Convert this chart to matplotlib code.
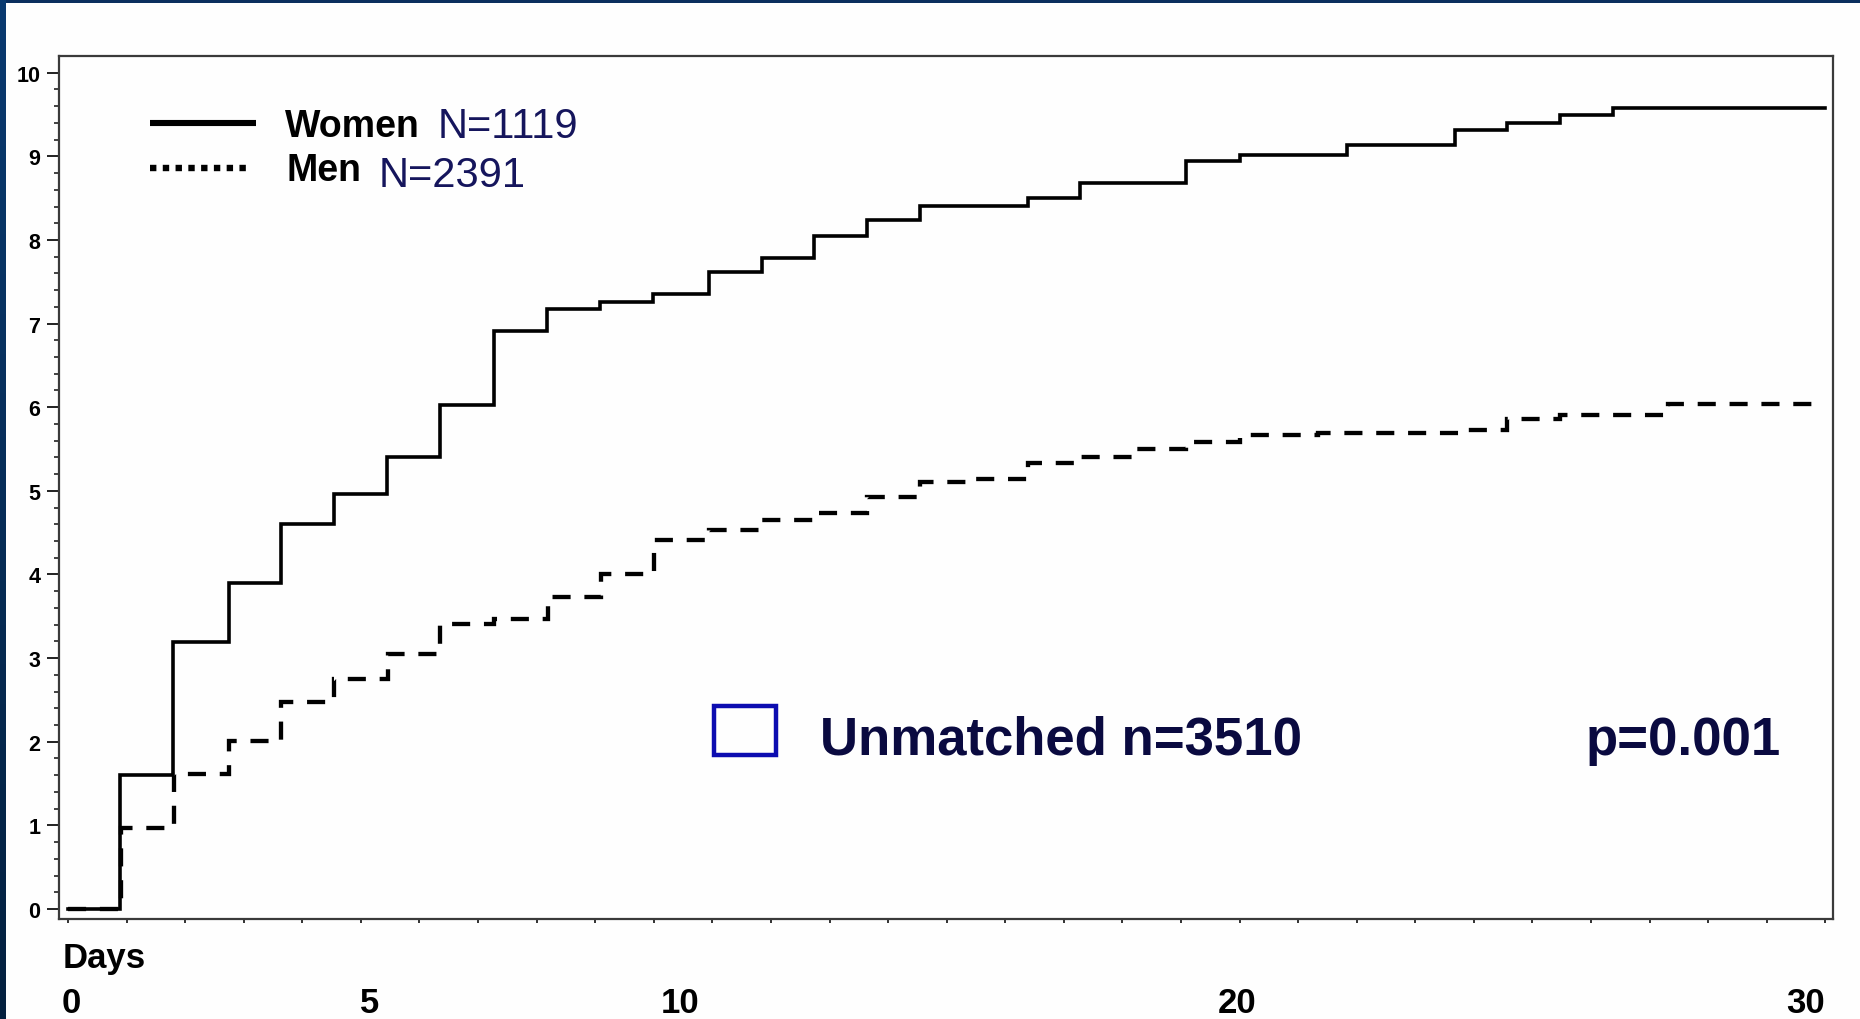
import numpy as np
import matplotlib
matplotlib.use("Agg")
import matplotlib.pyplot as plt
from matplotlib.patches import Rectangle
from matplotlib.transforms import blended_transform_factory
from matplotlib.colors import LinearSegmentedColormap

# ---------------- data ----------------
women_days = [0, 0.89, 1.80, 2.74, 3.64, 4.54, 5.44, 6.35, 7.28, 8.18, 9.08,
              9.98, 10.94, 11.84, 12.74, 13.64, 14.54, 16.38, 17.28, 19.08,
              20.0, 21.84, 23.67, 24.57, 25.47, 26.37]
women_pct = [0, 1.60, 3.19, 3.90, 4.60, 4.96, 5.41, 6.03, 6.91, 7.18, 7.26,
             7.35, 7.62, 7.79, 8.05, 8.24, 8.41, 8.50, 8.68, 8.95,
             9.02, 9.13, 9.31, 9.40, 9.50, 9.58]
men_days = [0, 0.90, 1.81, 2.74, 3.64, 4.54, 5.46, 6.35, 7.27, 8.19, 9.09,
            10.0, 10.95, 11.84, 12.71, 13.64, 14.55, 15.41, 16.38, 17.28,
            18.18, 19.08, 20.0, 21.33, 23.84, 24.57, 25.47, 27.31]
men_pct = [0, 0.97, 1.61, 2.01, 2.48, 2.75, 3.05, 3.41, 3.47, 3.73, 4.00,
           4.41, 4.53, 4.65, 4.74, 4.93, 5.10, 5.14, 5.33, 5.41,
           5.50, 5.58, 5.67, 5.69, 5.73, 5.86, 5.91, 6.04]
end_day = 30

series_names = ["Women", "Men"]
series_n = ["N=1119", "N=2391"]
x_label_values = [0, 5, 10, 20, 30]
x_label_texts = ["0", "5", "10", "20", "30"]
y_tick_values = list(range(0, 11))
x_title = "Days"
cohort_text = "Unmatched n=3510"
p_text = "p=0.001"

# ---------------- layout / style ----------------
x_label_nudge = [0.05, 0.14, 0.45, -0.04, -0.34]   # label offsets (days)
NAVY_TXT = "#15155c"
DARK_TXT = "#0a0a40"

plt.rcParams['font.family'] = ['Liberation Sans', 'DejaVu Sans']

W, H = 1860, 1020
fig = plt.figure(figsize=(W / 100, H / 100), dpi=100)
fig.patch.set_facecolor('#fefefe')


def fx(px):
    return px / W


def fy(py):
    return 1 - py / H


# navy frame strips (top and left) like the slide background
fig.add_artist(Rectangle((0, fy(4)), 1, 4 / H, transform=fig.transFigure,
                         facecolor='#0b2f5e', edgecolor='none', zorder=0))
grad_ax = fig.add_axes([0, 0, 5 / W, 1])
grad = np.linspace(0, 1, 256).reshape(-1, 1)
cmap = LinearSegmentedColormap.from_list('nv', ['#0a3a70', '#03203f'])
grad_ax.imshow(grad, aspect='auto', cmap=cmap, extent=[0, 1, 0, 1], origin='upper')
grad_ax.set_axis_off()

ax = fig.add_axes([fx(59), fy(920), fx(1833) - fx(59), fy(57) - fy(920)])
ax.set_facecolor('#fefefe')
ax.set_xlim(-0.154, 30.13)
ax.set_ylim(-0.12, 10.2)

# curves
wx = women_days + [end_day]
wy = women_pct + [women_pct[-1]]
mx = men_days + [end_day]
my = men_pct + [men_pct[-1]]
ax.step(wx, wy, where='post', color='black', lw=2.6, solid_joinstyle='miter', zorder=3)
ax.step(mx, my, where='post', color='black', lw=3.1, linestyle=(0, (4.2, 3.2)),
        dash_capstyle='butt', dash_joinstyle='miter', zorder=3)

# spines
for s in ax.spines.values():
    s.set_color('#3a3a3a')
    s.set_linewidth(1.6)

# ticks
ax.set_xticks(np.arange(0, end_day + 1, 1))
ax.tick_params(axis='x', which='major', direction='out', length=3, width=1.3,
               color='#222222', labelbottom=False)
ax.set_yticks(y_tick_values)
ax.set_yticks(np.arange(0, 10.01, 0.2), minor=True)
ax.tick_params(axis='y', which='major', direction='out', length=8.5, width=1.4,
               color='#222222', pad=5, labelsize=15.5)
ax.tick_params(axis='y', which='minor', direction='out', length=3.5, width=1.2,
               color='#222222')
for lab in ax.get_yticklabels():
    lab.set_fontweight('bold')

# x labels placed under the axis
trans = blended_transform_factory(ax.transData, ax.transAxes)
for v, t, dv in zip(x_label_values, x_label_texts, x_label_nudge):
    ax.text(v + dv, -0.1078, t, transform=trans, ha='center', va='baseline',
            fontsize=25, fontweight='bold', color='black')
ax.text(-0.1, -0.0556, x_title, transform=trans, ha='left', va='baseline',
        fontsize=25, fontweight='bold', color='black')

# legend (manual)
ax.plot([0.0513, 0.111], [0.9224, 0.9224], transform=ax.transAxes,
        color='black', lw=4.4, solid_capstyle='butt', zorder=4)
ax.plot([0.0513, 0.109], [0.8700, 0.8700], transform=ax.transAxes,
        color='black', lw=4.6, linestyle=(0, (1.0, 1.0)), dash_capstyle='butt', zorder=4)
ax.text(0.1274, 0.9075, series_names[0], transform=ax.transAxes, ha='left',
        va='baseline', fontsize=27, fontweight='bold', color='black')
ax.text(0.2136, 0.9062, series_n[0], transform=ax.transAxes, ha='left',
        va='baseline', fontsize=30, color=NAVY_TXT)
ax.text(0.1284, 0.8558, series_names[1], transform=ax.transAxes, ha='left',
        va='baseline', fontsize=27, fontweight='bold', color='black')
ax.text(0.1800, 0.8496, series_n[1], transform=ax.transAxes, ha='left',
        va='baseline', fontsize=30, color=NAVY_TXT)

# cohort marker box and annotation
ax.add_patch(Rectangle((0.3692, 0.190), 0.0349, 0.0568, transform=ax.transAxes,
                       facecolor='none', edgecolor='#0c0cb0', lw=3.2, zorder=4))
ax.text(0.429, 0.1912, cohort_text, transform=ax.transAxes, ha='left',
        va='baseline', fontsize=38, fontweight='bold', color=DARK_TXT)
ax.text(0.8608, 0.1912, p_text, transform=ax.transAxes, ha='left',
        va='baseline', fontsize=38, fontweight='bold', color=DARK_TXT)

fig.savefig('out.png', dpi=100, facecolor=fig.get_facecolor())
